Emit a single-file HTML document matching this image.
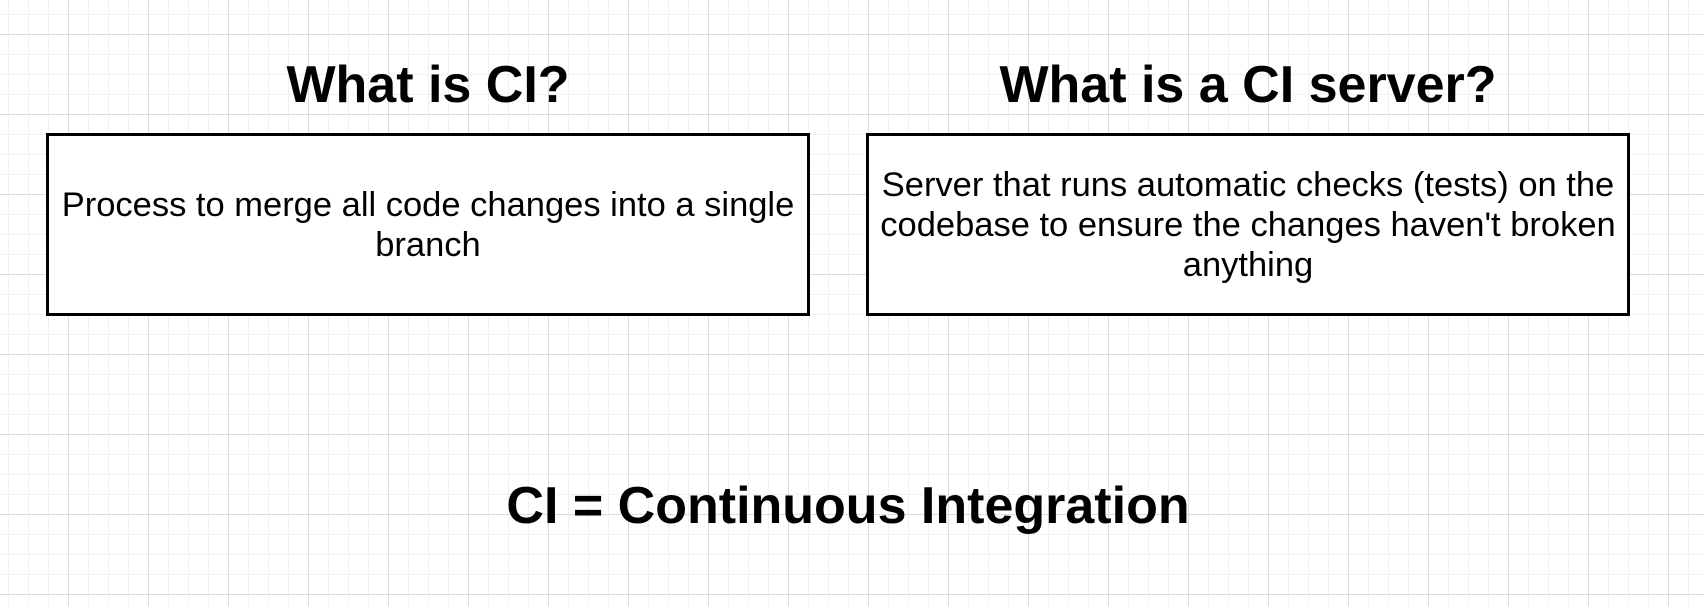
<!DOCTYPE html>
<html><head><meta charset="utf-8"><style>
html,body{margin:0;padding:0;}
body{width:1704px;height:606px;overflow:hidden;position:relative;font-family:"Liberation Sans",sans-serif;
background-color:#fff;
background-image:
linear-gradient(to right,#dcdcdc 1px,transparent 1px),
linear-gradient(to bottom,#dcdcdc 1px,transparent 1px),
linear-gradient(to right,#f1f1f1 1px,transparent 1px),
linear-gradient(to bottom,#f1f1f1 1px,transparent 1px);
background-size:80px 80px,80px 80px,20px 20px,20px 20px;
background-position:68px 0,0 34px,8px 0,0 14px;}
.t{position:absolute;font-weight:bold;font-size:52px;text-align:center;line-height:60px;color:#000;white-space:nowrap;}
.box{position:absolute;top:133px;height:177px;border:3px solid #000;background:#fff;display:flex;align-items:center;justify-content:center;text-align:center;font-size:34.5px;line-height:40px;box-sizing:content-box;}
</style></head><body>
<div class="t" style="left:78px;width:700px;top:55px;">What is CI?</div>
<div class="t" style="left:848px;width:800px;top:55px;">What is a CI server?</div>
<div class="box" style="left:46px;width:758px;"><div style="padding:0 8px">Process to merge all code changes into a single branch</div></div>
<div class="box" style="left:866px;width:758px;"><div style="padding:0 8px">Server that runs automatic checks (tests) on the codebase to ensure the changes haven't broken anything</div></div>
<div class="t" style="left:298px;width:1100px;top:476px;">CI = Continuous Integration</div>
</body></html>
